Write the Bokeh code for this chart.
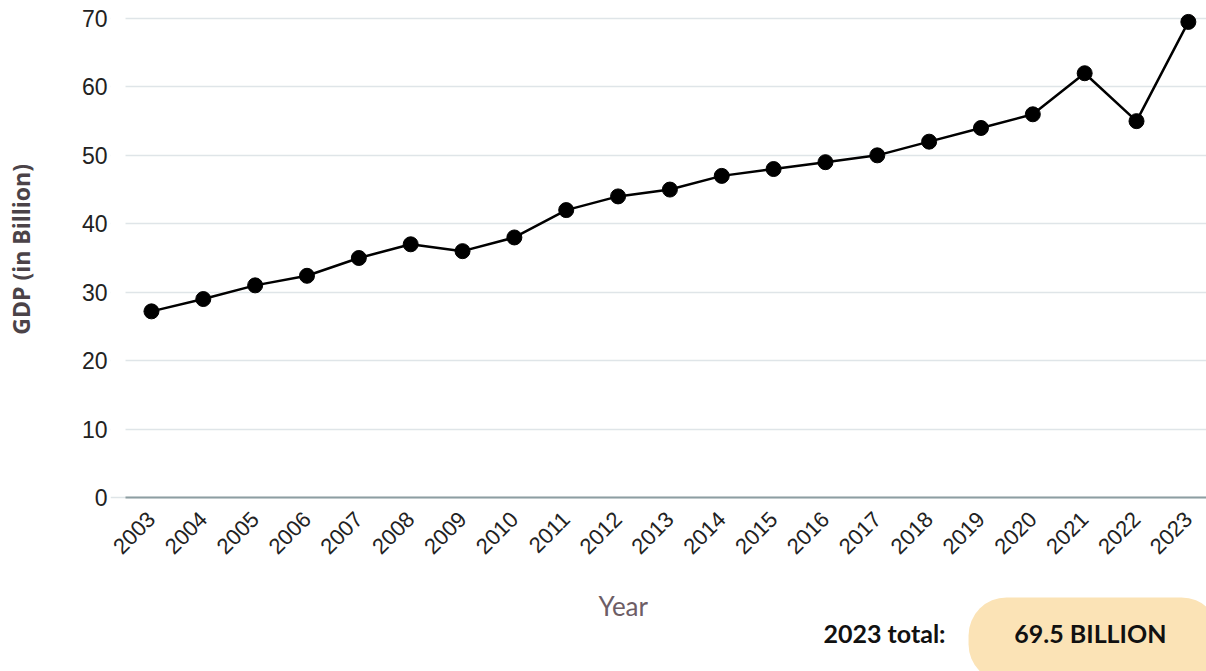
from math import pi

from bokeh.embed import file_html
from bokeh.models import BoxAnnotation, Label, Range1d, FixedTicker
from bokeh.plotting import figure
from bokeh.resources import INLINE

# GDP by year, in billions
years = [2003, 2004, 2005, 2006, 2007, 2008, 2009, 2010, 2011, 2012, 2013,
         2014, 2015, 2016, 2017, 2018, 2019, 2020, 2021, 2022, 2023]
gdp = [27.2, 29.0, 31.0, 32.4, 35.0, 37.0, 36.0, 38.0, 42.0, 44.0, 45.0,
       47.0, 48.0, 49.0, 50.0, 52.0, 54.0, 56.0, 62.0, 55.0, 69.5]
y_ticks = [0, 10, 20, 30, 40, 50, 60, 70]
total_year = 2023
total_value = 69.5

X0, X_PLOT, X1 = 2002.21, 2002.5, 2023.35
Y0, Y1 = -25.43, 72.63

# the frame runs to the bottom of the page so the caption row can live inside it
p = figure(
    width=1206, height=671,
    output_backend="svg", toolbar_location=None,
    x_range=Range1d(X0, X1), y_range=Range1d(Y0, Y1),
    min_border_left=110, min_border_right=0, min_border_top=0, min_border_bottom=0,
)
p.outline_line_color = None
p.background_fill_color = "white"
p.border_fill_color = "white"

# keep the gridlines starting where the axis line starts
p.add_layout(BoxAnnotation(
    left=X0, right=X_PLOT, bottom=0.4, top=Y1,
    fill_color="white", fill_alpha=1.0, line_color=None, level="underlay",
))

# series
p.line(years, gdp, line_color="black", line_width=2.5)
p.scatter(years, gdp, size=15, fill_color="black", line_color="black")

# x axis pinned at zero
xa = p.xaxis[0]
xa.fixed_location = 0
xa.bounds = (X_PLOT, X1)
xa.ticker = FixedTicker(ticks=years)
xa.major_label_orientation = pi / 4
xa.major_label_text_font = "Liberation Sans"
xa.major_label_text_font_size = "22px"
xa.major_label_text_color = "#222222"
xa.major_label_standoff = 12
xa.major_tick_line_color = None
xa.minor_tick_line_color = None
xa.axis_line_color = "#8d9ea2"
xa.axis_line_width = 2

# y axis; the title is lifted (leading no-break spaces) to sit beside the 0-70 span
ya = p.yaxis[0]
ya.ticker = FixedTicker(ticks=y_ticks)
ya.major_label_text_font = "Liberation Sans"
ya.major_label_text_font_size = "23px"
ya.major_label_text_color = "#222222"
ya.major_label_standoff = 3
ya.major_tick_out = 0
ya.major_tick_in = 0
ya.major_tick_line_color = None
ya.minor_tick_line_color = None
ya.axis_line_color = None
ya.axis_label = "\u00a0" * 29 + "GDP (in Billion)"
ya.axis_label_text_font = "Open Sans"
ya.axis_label_text_font_style = "bold"
ya.axis_label_text_font_size = "23px"
ya.axis_label_text_color = "#4b4348"
ya.axis_label_standoff = 42

p.xgrid.grid_line_color = None
p.ygrid.grid_line_color = "#dfe5e8"
p.ygrid.grid_line_width = 1.5

# x axis title
p.add_layout(Label(
    x=2012.1, y=-15.8,
    text="Year", text_font="Lato", text_font_size="26px", text_color="#6d5d65",
    text_align="center", text_baseline="middle",
))

# total badge
p.add_layout(BoxAnnotation(
    left=2018.76, right=2023.6, top=-14.61, bottom=-27.0,
    fill_color="#fbe3b6", fill_alpha=1.0, line_color=None, border_radius=38,
))
p.add_layout(Label(
    x=2017.14, y=-19.87,
    text=f"{total_year} total:", text_font="Lato", text_font_style="bold",
    text_font_size="25px", text_color="#111111",
    text_align="center", text_baseline="middle",
))
p.add_layout(Label(
    x=2021.11, y=-19.87,
    text=f"{total_value} BILLION", text_font="Lato", text_font_style="bold",
    text_font_size="25px", text_color="#111111",
    text_align="center", text_baseline="middle",
))

open("out.html", "w").write(file_html(p, INLINE))
